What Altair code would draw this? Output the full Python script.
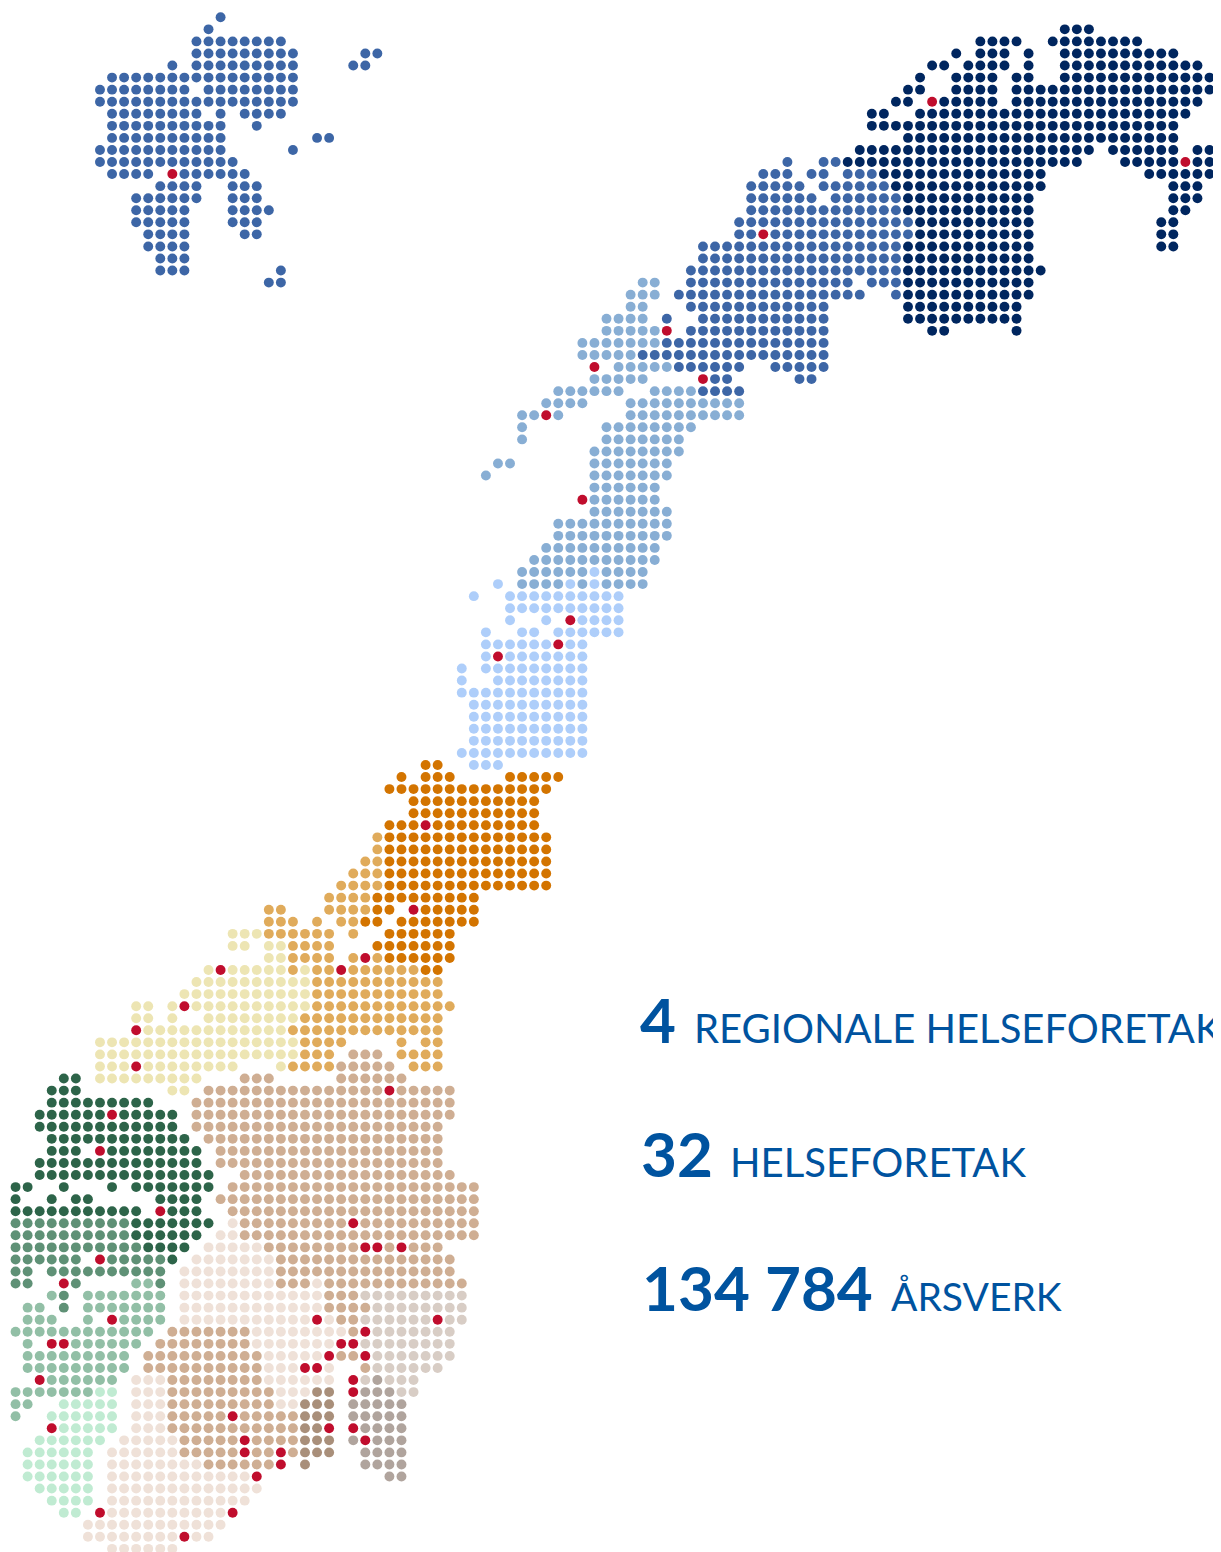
import altair as alt
import pandas as pd

# Dot-map cells: {grid row: "column runs"} per region tone
NAVY = {1:"88-90",2:"81-84 87-94",3:"79 81-83 85 88-97",4:"77-78 80-83 85 88-99",5:"76 79-82 84-85 88-100",
6:"75-76 79-82 84-100",7:"74-75 78-82 84-99",8:"72-73 76-98",9:"72-97",10:"75-97",11:"71-90 92-97 99-101",
12:"70-89 93-97 99-101",13:"73-86 95-101",14:"74-86 97-99",15:"75-85 97-99",16:"75-85 97-98",17:"76-85 96-97",
18:"76-85 96-97",19:"75-85 96-97",20:"75-85",21:"75-86",22:"75-85",23:"75-85",24:"75-84",25:"75-84",26:"77-78 84"}
BLUE = {0:"18",1:"17",2:"16-23",3:"16-24 30-31",4:"14 16-24 29-30",5:"9-24",6:"8-15 17-24",7:"8-24",
8:"9-16 18 20-23",9:"9-18 21",10:"9-18 26-27",11:"8-18 24",12:"8-19 65 68-69",13:"9-12 15-20 63-65 67-68 70-72",
14:"13-16 19-21 62-66 68-73",15:"11-16 19-21 62-67 69-74",16:"11-15 19-22 62-74",17:"11-15 19-21 61-75",
18:"12-15 20-21 61-62 64-75",19:"12-15 58-74",20:"13-15 58-74",21:"13-15 23 57-74",22:"22-23 57-70 72-74",
23:"56-71 74",24:"57-68",25:"55 58-68",26:"57-68",27:"55-68",28:"53-68",29:"56-61 64-68",30:"59-60 66-67",31:"58-61"}
STEEL = {22:"53-54",23:"52-54",24:"52-53",25:"50-53",26:"50-54",27:"48-54",28:"48-52",29:"51-55",30:"49-53",
31:"46-51 54-57",32:"45-48 52-61",33:"43-44 46 52-61",34:"43 50-57",35:"43 50-56",36:"49-56",37:"41-42 49-55",
38:"40 49-55",39:"49-54",40:"49-54",41:"49-55",42:"46-55",43:"46-55",44:"45-54",45:"44-54",46:"43-48 50-53",
47:"43-46 48 50-53"}
SKY = {46:"49",47:"41 47 49",48:"39 42-51",49:"42-51",50:"42 45 48-51",51:"40 43-44 46-51",52:"40-45 47-48",
53:"40 42-48",54:"38 40-48",55:"38 41-48",56:"38-48",57:"39-48",58:"39-48",59:"39-48",60:"39-48",61:"38-48",62:"39-41"}
ORANGE = {62:"35-36",63:"33 35-37 42-46",64:"32-45",65:"34-44",66:"34-44",67:"32-34 36-44",68:"32-45",69:"32-45",
70:"32-45",71:"32-45",72:"32-45",73:"31-39",74:"31-32 35-39",75:"30-31 33-39",76:"32-37",77:"31-37",78:"32-37",79:"35-36"}
AMBER = {68:"31",69:"31",70:"30-31",71:"29-31",72:"28-31",73:"27-30",74:"22-23 27-30",75:"22-24 26 28-29",
76:"22-27 29",77:"24-27",78:"24-27 29 31",79:"24 26-27 29-34",80:"26-36",81:"26-36",82:"26-37",83:"25-36",
84:"24-36",85:"25-28 33 35-36",86:"25-27 33-36",87:"24-27 34-36"}
SAND = {76:"19-21",77:"19-20 22-23",78:"22-23",79:"17 19-23 25",80:"16-25",81:"15-25",82:"11-12 14 16-25",
83:"11-12 14 17-24",84:"12-23",85:"8-24",86:"8-24",87:"8-10 12-19 23",88:"8-16",89:"14-15"}
BROWN = {86:"29-31",87:"28-32",88:"20-22 28-33",89:"17-31 33-37",90:"16-37",91:"16-37",92:"16-36",93:"17-36",
94:"18-36",95:"18-36",96:"20-37",97:"19-39",98:"18-39",99:"19-39",100:"20-28 30-39",101:"20-39",
102:"22-29 32 34-36",103:"23-37",104:"23-37",105:"23-25 27-38",106:"27-29",107:"27-30",108:"28-29",109:"14-20 29",
110:"13-20",111:"12-21 28-29",112:"12-21 30",113:"14-21",114:"14-22",115:"14-22",116:"14-18 20-24",117:"14-24",
118:"15-19 21-24",119:"15-19 21-22 24",120:"17-22"}
BLUSH = {100:"19",101:"18-19",102:"17-21",103:"16-22",104:"15-22",105:"15-22 26",106:"15-26",107:"15-26",
108:"15-25 27",109:"21-28",110:"21-27",111:"22-26",112:"22-24 27",113:"11-13 22-27",114:"11-13 23-25",
115:"11-13 23-24",116:"11-13",117:"11-13",118:"10-14",119:"9-14",120:"9-16",121:"9-20",122:"9-21",123:"9-20",
124:"9-18",125:"7-18",126:"7-14 16-17",127:"9-14"}
STONE = {106:"30-38",107:"31-38",108:"30-35 37-38",109:"31-37",110:"30-37",111:"31-37",112:"31-36",113:"30 32-34",114:"33-34"}
TAUPE = {114:"26-27",115:"25-27",116:"25-27",117:"25-26",118:"25-27",119:"25-27",120:"25"}
ASH = {113:"31",114:"30-32",115:"29-33",116:"29-33",117:"30-33",118:"29 31-33",119:"30-33",120:"30-33",121:"32-33"}
FOREST = {88:"5-6",89:"4-6",90:"4-12",91:"3-8 10-14",92:"3-14",93:"4-15",94:"4-6 9-16",95:"3-16",96:"3-17",
97:"1-2 5 9 11-17",98:"1 4 6-7 13-16",99:"1-11 14-16",100:"11-17",101:"11-16",102:"12-15",103:"14"}
FERN = {100:"1-10",101:"1-10",102:"1-11",103:"1-6 9-13",104:"1-2 4-13",105:"1-2 6 13",106:"5",107:"5"}
SAGE = {105:"11-12",106:"4 7-13",107:"2-3 7-13",108:"2-4 7 10-13",109:"1-12",110:"2 6-11",111:"2-10",112:"2-10",
113:"4-9",114:"1-7",115:"1-2",116:"1"}
MINT = {114:"8-9",115:"5-9",116:"4-9",117:"5-9",118:"3-8",119:"2-7",120:"2-7",121:"2-7",122:"3-7",123:"4-7",124:"5-6"}
HOSPITAL = {7:"77",12:"98",13:"14",18:"63",26:"55",29:"49",30:"58",33:"45",40:"48",50:"47",52:"46",53:"41",67:"35",
74:"34",78:"30",79:"18 28",82:"15",84:"11",87:"11",89:"32",91:"9",94:"8",99:"13",100:"29",102:"30 31 33",103:"8",
105:"5",108:"9 26 36",109:"30",110:"4 5 28 29",111:"27 30",112:"25 26",113:"3 29",114:"29",116:"19",117:"4 27 29",
118:"20 30",119:"20 23",120:"23",121:"21",124:"8 19",126:"15"}

GROUPS = {"navy":(NAVY,"#00265f"),"blue":(BLUE,"#3d66a6"),"steel":(STEEL,"#88aed4"),"sky":(SKY,"#aecefa"),
"orange":(ORANGE,"#d37400"),"amber":(AMBER,"#e0ab5b"),"sand":(SAND,"#ede5b3"),"brown":(BROWN,"#cfae93"),
"blush":(BLUSH,"#efe1d8"),"stone":(STONE,"#d8cdc5"),"taupe":(TAUPE,"#a98f7a"),"ash":(ASH,"#b0a49d"),
"forest":(FOREST,"#2d6449"),"fern":(FERN,"#5f9176"),"sage":(SAGE,"#92bfa6"),"mint":(MINT,"#c0ebd2"),
"hospital":(HOSPITAL,"#c00d2d")}

NUMBERS = ["4", "32", "134 784"]
LABELS = ["REGIONALE HELSEFORETAK", "HELSEFORETAK", "ÅRSVERK"]

rows = []
for name, (cells, _) in GROUPS.items():
    for r, spec in cells.items():
        for run in spec.split():
            a, _, b = run.partition("-")
            for c in range(int(a), int(b or a) + 1):
                rows.append({"col": c, "row": r, "group": name})
df = pd.DataFrame(rows)

W, H = 1205, 1544
dots = alt.Chart(df).mark_circle(size=98, opacity=1, strokeWidth=0).encode(
    x=alt.X("col:Q", axis=None, scale=alt.Scale(domain=[0.373, 100.29], nice=False, zero=False)),
    y=alt.Y("row:Q", axis=None, scale=alt.Scale(domain=[127.26, -0.771], nice=False, zero=False)),
    color=alt.Color("group:N", legend=None,
                    scale=alt.Scale(domain=list(GROUPS), range=[g[1] for g in GROUPS.values()])),
    order=alt.Order("row:Q"),
)

def txt(s, px, base, size, weight):
    return alt.Chart(pd.DataFrame({"t": [s]})).mark_text(
        align="left", baseline="alphabetic", font="Lato", fontSize=size, fontWeight=weight,
        color="#00539f").encode(text="t:N", x=alt.value(px - 8), y=alt.value(base - 8))

texts = [
    txt(NUMBERS[0], 640, 1043, 62, 700), txt(LABELS[0], 694, 1043, 40, 400),
    txt(NUMBERS[1], 641, 1177, 62, 700), txt(LABELS[1], 730, 1177, 40, 400),
    txt(NUMBERS[2], 642, 1311, 62, 700), txt(LABELS[2], 891, 1311, 39, 400),
]

chart = alt.layer(dots, *texts).properties(
    width=W, height=H, padding=0, autosize=alt.AutoSizeParams(type="none"),
    background="white",
).configure_view(stroke=None)

chart.save("out.html", embed_options={"renderer": "svg", "actions": False})
